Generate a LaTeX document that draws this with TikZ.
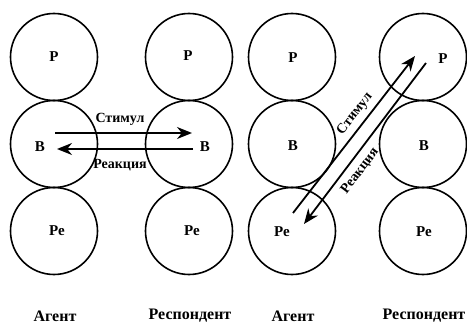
\documentclass[tikz,border=0pt]{standalone}
\usepackage{fontspec}
\setmainfont{Liberation Serif}
\usetikzlibrary{arrows.meta}

\begin{document}
\begin{tikzpicture}[x=1pt,y=-1pt]
    \tikzstyle{ego}=[draw,circle,line width=1.6pt,minimum size=87pt,inner sep=0pt]
    \tikzstyle{lbl}=[font=\bfseries\fontsize{15}{17}\selectfont,inner sep=0pt]
    \tikzstyle{msglbl}=[font=\bfseries\fontsize{14}{16}\selectfont,inner sep=0pt]
    \tikzstyle{roletxt}=[font=\bfseries\fontsize{16}{18}\selectfont,inner sep=0pt]
    \tikzstyle{msg}=[line width=1.8pt,-{Stealth[length=15pt,width=12pt]}]
    \useasboundingbox (0,0) rectangle (467,324);
    % left: agent and respondent, complementary transaction
    \node [ego] (aP1) at (54,57) {};
    \node [ego] (aB1) at (54,144) {};
    \node [ego] (aR1) at (54,231) {};
    \node [ego] (rP1) at (189,57) {};
    \node [ego] (rB1) at (189,144) {};
    \node [ego] (rR1) at (189,231) {};
    \node [lbl] (taP1) at (54,57) {Р};
    \node [lbl] (taB1) at (40,147) {В};
    \node [lbl] (taR1) at (57,231) {Ре};
    \node [lbl] (trP1) at (188,56) {Р};
    \node [lbl] (trB1) at (205,147) {В};
    \node [lbl] (trR1) at (192,231) {Ре};
    \coordinate (s1a) at (55,133);
    \coordinate (s1b) at (192,133);
    \coordinate (r1a) at (193,149);
    \coordinate (r1b) at (57,149);
    \draw [msg] (s1a) -- (s1b);
    \draw [msg] (r1a) -- (r1b);
    \node [msglbl] (st1) at (120,119) {Стимул};
    \node [msglbl] (re1) at (120,165) {Реакция};
    \node [roletxt] (ag1) at (55,316) {Агент};
    \node [roletxt] (rs1) at (190,316) {Респондент};
    % right: agent and respondent, crossed transaction
    \node [ego] (aP2) at (292,57) {};
    \node [ego] (aB2) at (292,144) {};
    \node [ego] (aR2) at (292,231) {};
    \node [ego] (rP2) at (423,57) {};
    \node [ego] (rB2) at (423,144) {};
    \node [ego] (rR2) at (423,231) {};
    \node [lbl] (taP2) at (293,58) {Р};
    \node [lbl] (taB2) at (293,146) {В};
    \node [lbl] (taR2) at (282,232) {Ре};
    \node [lbl] (trP2) at (443,59) {Р};
    \node [lbl] (trB2) at (424,146) {В};
    \node [lbl] (trR2) at (424,232) {Ре};
    \coordinate (s2a) at (293,213);
    \coordinate (s2b) at (415,56);
    \coordinate (r2a) at (426,63);
    \coordinate (r2b) at (304,224);
    \draw [msg] (s2a) -- (s2b);
    \draw [msg] (r2a) -- (r2b);
    \node [msglbl,rotate=52] (st2) at (355,114) {Стимул};
    \node [msglbl,rotate=53] (re2) at (360,171) {Реакция};
    \node [roletxt] (ag2) at (293,316) {Агент};
    \node [roletxt] (rs2) at (424,316) {Респондент};
\end{tikzpicture}
\end{document}
